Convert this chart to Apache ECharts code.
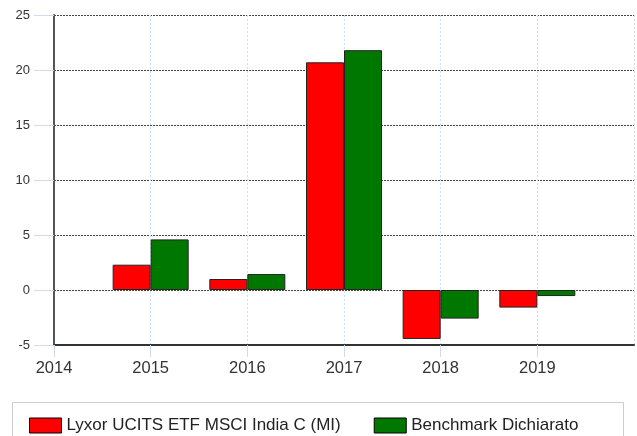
<!DOCTYPE html>
<html lang="it">
<head>
    <meta charset="UTF-8">
    <title>Rendimenti annuali</title>
    <script src="https://cdn.jsdelivr.net/npm/echarts@6/dist/echarts.min.js"></script>
    <style>
        html, body { margin: 0; padding: 0; background: #fff; }
        #main { width: 637px; height: 436px; }
    </style>
</head>
<body>
<div id="main"></div>
<script type="text/javascript">
    // anni e rendimenti (%)
    var years = [2015, 2016, 2017, 2018, 2019];
    var fondo = [2.3, 1.0, 20.7, -4.45, -1.6];
    var benchmark = [4.6, 1.45, 21.8, -2.6, -0.55];
    var seriesNames = ['Lyxor UCITS ETF MSCI India C (MI)', 'Benchmark Dichiarato'];

    function pairs(vals) {
        return years.map(function (y, i) { return [y, vals[i]]; });
    }

    var myChart = echarts.init(document.getElementById('main'));
    var font = '"Liberation Sans", sans-serif';

    var option = {
        animation: false,
        grid: { left: 54, right: 3, top: 15, bottom: 91 },
        legend: {
            left: 24,
            top: 412,
            itemWidth: 32,
            itemHeight: 15,
            itemGap: 33,
            icon: 'rect',
            textStyle: { fontFamily: font, fontSize: 17, color: '#222' },
            itemStyle: { borderColor: '#000', borderWidth: 1 },
            data: seriesNames
        },
        graphic: [{
            type: 'rect',
            shape: { x: 12.5, y: 402.5, width: 611, height: 40 },
            style: { fill: 'none', stroke: '#ccc', lineWidth: 1 },
            silent: true
        }],
        xAxis: {
            type: 'value',
            min: 2014,
            max: 2020,
            interval: 1,
            axisLine: { show: true, onZero: false, lineStyle: { color: '#333', width: 2 } },
            axisTick: { show: true, length: 12, lineStyle: { color: '#cfdcf0' } },
            axisLabel: {
                fontFamily: font, fontSize: 16.5, color: '#333', margin: 15,
                showMaxLabel: false,
                formatter: function (v) { return String(v); }
            },
            splitLine: {
                show: true,
                lineStyle: { color: '#d2def0', type: [2, 2] }
            }
        },
        yAxis: {
            type: 'value',
            min: -5,
            max: 25,
            interval: 5,
            axisLine: { show: true, lineStyle: { color: '#555', width: 2 } },
            axisTick: { show: true, length: 20, lineStyle: { color: '#cfdcf0' } },
            axisLabel: { fontFamily: font, fontSize: 13, color: '#333', margin: 24 },
            splitLine: {
                show: true,
                lineStyle: { color: '#444', type: [2, 1] }
            }
        },
        series: [{
            name: seriesNames[0],
            type: 'bar',
            barWidth: 38,
            barGap: '0%',
            itemStyle: { color: '#ff0000', borderColor: '#222', borderWidth: 1 },
            data: pairs(fondo)
        }, {
            name: seriesNames[1],
            type: 'bar',
            barWidth: 38,
            barGap: '0%',
            itemStyle: { color: '#007800', borderColor: '#222', borderWidth: 1 },
            data: pairs(benchmark)
        }]
    };

    myChart.setOption(option);
</script>
</body>
</html>
